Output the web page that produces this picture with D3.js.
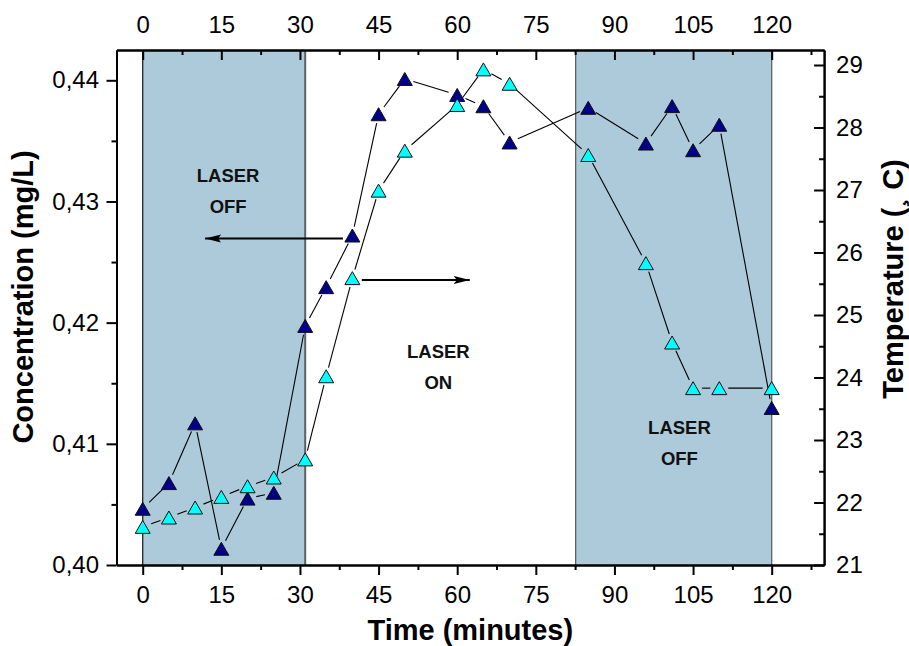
<!DOCTYPE html>
<html>
<head>
<meta charset="utf-8">
<script src="https://cdn.jsdelivr.net/npm/d3@7"></script>
<style>
  html, body { margin: 0; padding: 0; background: #fff; }
  svg { display: block; font-family: "Liberation Sans", Arial, sans-serif; }
</style>
</head>
<body>
<svg id="chart" width="909" height="646"></svg>
<script>
// ---- data ----
const times = [0, 5, 10, 15, 20, 25, 31, 35, 40, 45, 50, 60, 65, 70, 85, 96, 101, 105, 110, 120];
const concentration = [0.40464, 0.40676, 0.41169, 0.40134, 0.40548, 0.40596, 0.41973, 0.42293, 0.42719, 0.43720,
                       0.44011, 0.43879, 0.43786, 0.43487, 0.43773, 0.43478, 0.43787, 0.43423, 0.43633, 0.41296];
const temperature = [21.61, 21.76, 21.92, 22.09, 22.26, 22.40, 22.69, 24.02, 25.59, 26.99,
                     27.63, 28.36, 28.93, 28.70, 27.56, 25.83, 24.56, 23.83, 23.83, 23.83];
const laserOffStart = [0, 82.6];
const laserOffEnd = [31, 120];
const timeTicks = [0, 15, 30, 45, 60, 75, 90, 105, 120];
const concTicks = [0.40, 0.41, 0.42, 0.43, 0.44];
const concTickLabels = ["0,40", "0,41", "0,42", "0,43", "0,44"];
const tempTicks = [21, 22, 23, 24, 25, 26, 27, 28, 29];
// annotations (data coordinates: time, concentration)
const noteLines = [["LASER", "OFF"], ["LASER", "ON"], ["LASER", "OFF"]];
const noteX = [16.3, 56.4, 102.4];
const noteY = [0.43161, 0.41706, 0.41085];
// arrows: start/end time, level (concentration for first, temperature for second)
const arrowConc = {x0: 38.2, x1: 11.9, y: 0.42694};
const arrowTemp = {x0: 41.8, x1: 62.4, y: 25.56};

// ---- layout ----
const svg = d3.select("#chart");
const plotTop = 50, plotBottom = 565, plotLeft = 116.5, plotRight = 824.1;
const x = d3.scaleLinear().domain([-5, 130]).range([plotLeft, plotRight]);
const yL = d3.scaleLinear().domain([0.40, 0.4425]).range([plotBottom, plotTop]);
const yR = d3.scaleLinear().domain([21, 29.24]).range([plotBottom, plotTop]);

// shaded laser-off regions
const regions = laserOffStart.map((s, i) => ({s, e: laserOffEnd[i]}));
svg.append("g").selectAll("rect").data(regions).join("rect")
  .attr("x", d => x(d.s)).attr("y", plotTop)
  .attr("width", d => x(d.e) - x(d.s)).attr("height", plotBottom - plotTop)
  .attr("fill", "#adcada");
svg.append("g").selectAll("line").data(regions.flatMap(d => [d.s, d.e])).join("line")
  .attr("x1", d => x(d)).attr("x2", d => x(d))
  .attr("y1", plotTop).attr("y2", plotBottom)
  .attr("stroke", (d, i) => i === 0 ? "#222" : "#5a6266")
  .attr("stroke-width", (d, i) => i === 1 ? 2 : 1.3);

// axes
const fs = 24;
function styleAxis(g) {
  g.selectAll(".domain").attr("stroke", "#000").attr("stroke-width", 2);
  g.selectAll(".tick line").attr("stroke", "#000").attr("stroke-width", 2);
  g.selectAll("text").attr("font-size", fs).attr("fill", "#000")
    .attr("font-family", "'Liberation Sans', Arial, sans-serif");
}
const minorTime = d3.range(-7.5, 131, 15).filter(v => v >= -5 && v <= 130);
// bottom
svg.append("g").attr("transform", `translate(0,${plotBottom})`)
  .call(d3.axisBottom(x).tickValues(minorTime).tickFormat("").tickSizeInner(5).tickSizeOuter(0)).call(styleAxis);
svg.append("g").attr("transform", `translate(0,${plotBottom})`)
  .call(d3.axisBottom(x).tickValues(timeTicks).tickSizeInner(10).tickSizeOuter(0).tickPadding(11)).call(styleAxis);
// top
svg.append("g").attr("transform", `translate(0,${plotTop})`)
  .call(d3.axisTop(x).tickValues(minorTime).tickFormat("").tickSizeInner(-5).tickSizeOuter(0)).call(styleAxis);
svg.append("g").attr("transform", `translate(0,${plotTop})`)
  .call(d3.axisTop(x).tickValues(timeTicks).tickSizeInner(-10).tickSizeOuter(0).tickPadding(17)).call(styleAxis);
// left
const minorConc = [0.405, 0.415, 0.425, 0.435];
svg.append("g").attr("transform", `translate(${plotLeft},0)`)
  .call(d3.axisLeft(yL).tickValues(minorConc).tickFormat("").tickSizeInner(5).tickSizeOuter(0)).call(styleAxis);
svg.append("g").attr("transform", `translate(${plotLeft},0)`)
  .call(d3.axisLeft(yL).tickValues(concTicks).tickFormat((d, i) => concTickLabels[i]).tickSizeInner(10).tickSizeOuter(0).tickPadding(7.5)).call(styleAxis);
// right
const minorTemp = d3.range(21.5, 29.2, 1);
svg.append("g").attr("transform", `translate(${plotRight},0)`)
  .call(d3.axisRight(yR).tickValues(minorTemp).tickFormat("").tickSizeInner(-5).tickSizeOuter(0)).call(styleAxis);
svg.append("g").attr("transform", `translate(${plotRight},0)`)
  .call(d3.axisRight(yR).tickValues(tempTicks).tickFormat(d3.format("d")).tickSizeInner(-10).tickSizeOuter(0).tickPadding(12)).call(styleAxis);

// axis titles
svg.append("text").attr("x", (plotLeft + plotRight) / 2).attr("y", 640)
  .attr("text-anchor", "middle").attr("font-weight", "bold").attr("font-size", 29)
  .text("Time (minutes)");
svg.append("text").attr("transform", "translate(33,297) rotate(-90)")
  .attr("text-anchor", "middle").attr("font-weight", "bold").attr("font-size", 29)
  .text("Concentration (mg/L)");
svg.append("text").attr("transform", "translate(903,279) rotate(-90)")
  .attr("text-anchor", "middle").attr("font-weight", "bold").attr("font-size", 29)
  .text("Temperature (\u00B8 C)");

// annotations
noteLines.forEach((lines, i) => {
  const t = svg.append("text").attr("text-anchor", "middle").attr("font-weight", "bold")
    .attr("font-size", 18.5).attr("fill", "#111");
  lines.forEach((ln, j) => {
    t.append("tspan").attr("x", x(noteX[i])).attr("y", yL(noteY[i]) + j * 31).text(ln);
  });
});

// arrows
const defs = svg.append("defs");
defs.append("marker").attr("id", "ah").attr("viewBox", "0 0 16 10")
  .attr("refX", 16).attr("refY", 5).attr("markerWidth", 16).attr("markerHeight", 10)
  .attr("markerUnits", "userSpaceOnUse").attr("orient", "auto")
  .append("path").attr("d", "M0,1 L16,5 L0,9 L3,5 Z").attr("fill", "#000");
svg.append("line").attr("x1", x(arrowConc.x0)).attr("x2", x(arrowConc.x1))
  .attr("y1", yL(arrowConc.y)).attr("y2", yL(arrowConc.y))
  .attr("stroke", "#000").attr("stroke-width", 2).attr("marker-end", "url(#ah)");
svg.append("line").attr("x1", x(arrowTemp.x0)).attr("x2", x(arrowTemp.x1))
  .attr("y1", yR(arrowTemp.y)).attr("y2", yR(arrowTemp.y))
  .attr("stroke", "#000").attr("stroke-width", 2).attr("marker-end", "url(#ah)");

// series
const tri = "M0,-6.5 L7.5,6.5 L-7.5,6.5 Z";
const gap = 9;
function drawSeries(vals, yScale, fill) {
  const pts = times.map((t, i) => [x(t), yScale(vals[i])]);
  const segs = d3.pairs(pts).map(([a, b]) => {
    const dx = b[0] - a[0], dy = b[1] - a[1], L = Math.hypot(dx, dy);
    if (L <= 2 * gap) return null;
    const ux = dx / L, uy = dy / L;
    return [a[0] + ux * gap, a[1] + uy * gap, b[0] - ux * gap, b[1] - uy * gap];
  }).filter(Boolean);
  const g = svg.append("g");
  g.selectAll("line").data(segs).join("line")
    .attr("x1", d => d[0]).attr("y1", d => d[1]).attr("x2", d => d[2]).attr("y2", d => d[3])
    .attr("stroke", "#000").attr("stroke-width", 1.1);
  g.selectAll("path").data(pts).join("path")
    .attr("d", tri).attr("transform", d => `translate(${d[0]},${d[1]})`)
    .attr("fill", fill).attr("stroke", "#111").attr("stroke-width", 1);
}
drawSeries(concentration, yL, "#000088");
drawSeries(temperature, yR, "#00ffff");
</script>
</body>
</html>
